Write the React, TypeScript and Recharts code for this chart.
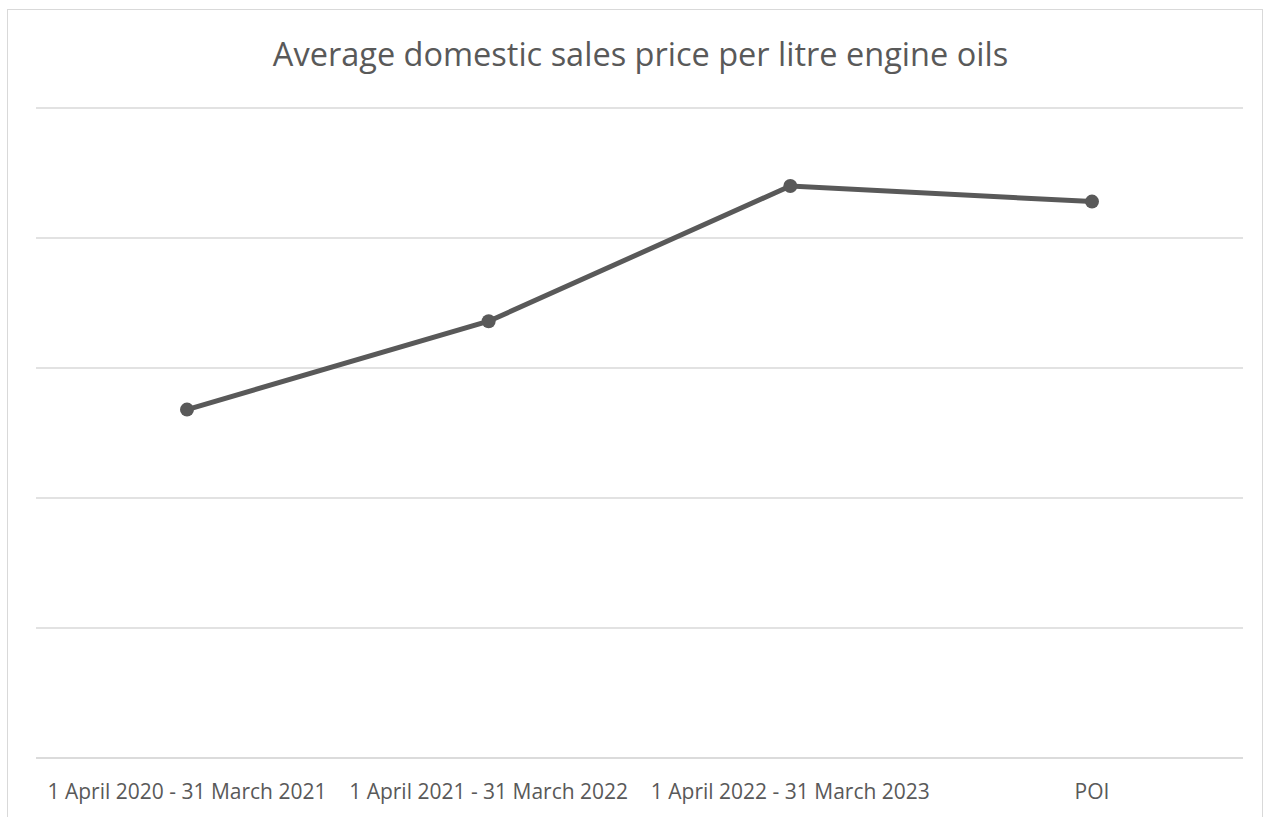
import React from 'react'
import { LineChart, Line, XAxis, YAxis, CartesianGrid } from 'recharts'

const periods = [
  '1 April 2020 - 31 March 2021',
  '1 April 2021 - 31 March 2022',
  '1 April 2022 - 31 March 2023',
  'POI',
]
const avgPrice = [2.68, 3.36, 4.4, 4.28]
const yTicks = [0, 1, 2, 3, 4, 5]

const data = periods.map((period, i) => ({ period, price: avgPrice[i] }))

const font = '"Open Sans", "Liberation Sans", sans-serif'

export default function App() {
  return (
    <div style={{ position: 'absolute', left: 0, top: 0, width: 1270, height: 817, background: '#fff', overflow: 'hidden' }}>
      <div
        style={{
          position: 'absolute',
          left: 7,
          top: 9,
          width: 1256,
          height: 900,
          border: '1px solid #d9d9d9',
          boxSizing: 'border-box',
        }}
      />
      <div
        style={{
          position: 'absolute',
          left: 0,
          top: 32,
          width: 1281,
          textAlign: 'center',
          fontFamily: font,
          fontSize: 32.5,
          lineHeight: '44px',
          color: '#595959',
        }}
      >
        Average domestic sales price per litre engine oils
      </div>
      <div style={{ position: 'absolute', left: 0, top: 0 }}>
        <LineChart width={1270} height={817} data={data} margin={{ top: 108, right: 27, bottom: 29, left: 36 }}>
          <CartesianGrid vertical={false} stroke="#d9d9d9" strokeWidth={1.5} />
          <XAxis
            dataKey="period"
            padding={{ left: 151, right: 151 }}
            height={30}
            tickLine={false}
            axisLine={{ stroke: '#d9d9d9', strokeWidth: 1.5 }}
            tick={{ fill: '#595959', fontSize: 21, fontFamily: font }}
            tickMargin={20}
            interval={0}
          />
          <YAxis domain={[0, 5]} ticks={yTicks} hide />
          <Line
            type="linear"
            dataKey="price"
            stroke="#595959"
            strokeWidth={5}
            dot={{ r: 7, fill: '#595959', stroke: '#595959', strokeWidth: 0 }}
            isAnimationActive={false}
          />
        </LineChart>
      </div>
    </div>
  )
}
